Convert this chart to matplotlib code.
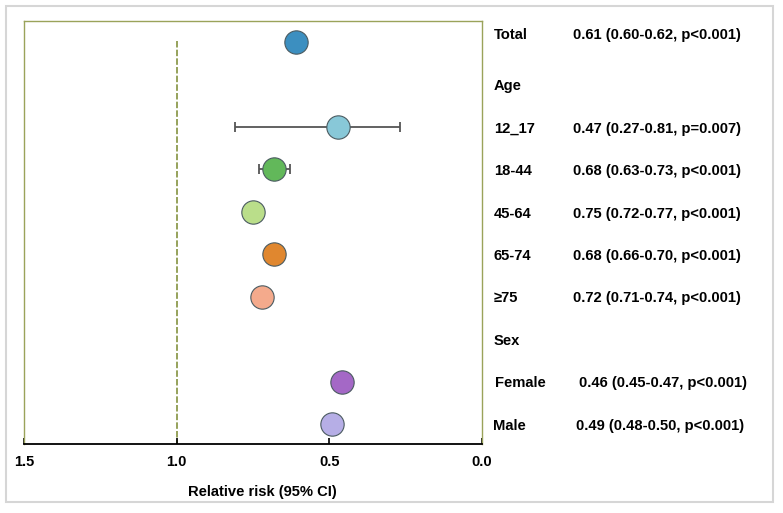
import matplotlib
matplotlib.use("Agg")
import matplotlib.pyplot as plt
import matplotlib.transforms as mtransforms
from matplotlib.patches import Rectangle

plt.rcParams['font.family'] = ['Liberation Sans', 'DejaVu Sans']

rows = ["Total", "Age", "12_17", "18-44", "45-64", "65-74", "≥75", "Sex", "Female", "Male"]
rr = [0.61, None, 0.47, 0.68, 0.75, 0.68, 0.72, None, 0.46, 0.49]
lo = [0.60, None, 0.27, 0.63, 0.72, 0.66, 0.71, None, 0.45, 0.48]
hi = [0.62, None, 0.81, 0.73, 0.77, 0.70, 0.74, None, 0.47, 0.50]
pvals = ["p<0.001", None, "p=0.007", "p<0.001", "p<0.001", "p<0.001", "p<0.001", None, "p<0.001", "p<0.001"]
colors = ["#3C8FC0", None, "#88C8D8", "#62B85A", "#BADE8A", "#E0872F", "#F4AA8C", None, "#A468C6", "#B6AEE6"]
xticks = [1.5, 1.0, 0.5, 0.0]

W, H = 783, 513
fig = plt.figure(figsize=(W / 100, H / 100), dpi=100)
ax = fig.add_axes([24 / W, 1 - 444 / H, (482 - 24) / W, (444 - 21) / H])

fig.patches.append(Rectangle((6 / W, 1 - 502 / H), (773 - 6) / W, (502 - 6) / H,
                             transform=fig.transFigure, fill=False,
                             edgecolor="#D6D6D6", linewidth=1.5))

ax.set_xlim(1.5, 0.0)
ax.set_ylim(9.47, -0.495)

ax.plot([1.0, 1.0], [-0.03, 9.47], color="#8E9B4E", linewidth=1.3,
        dashes=(3.6, 1.2), zorder=1)

for i, r in enumerate(rows):
    if rr[i] is None:
        continue
    ax.errorbar(rr[i], i, xerr=[[rr[i] - lo[i]], [hi[i] - rr[i]]],
                fmt='none', ecolor="#555555", elinewidth=1.3, capsize=3.5,
                capthick=1.3, zorder=2)
    ax.plot(rr[i], i, 'o', markersize=16.8, markerfacecolor=colors[i],
            markeredgecolor="#4A5A60", markeredgewidth=0.8, zorder=3)

trans = mtransforms.blended_transform_factory(fig.transFigure, ax.transData)
val_x = {8: 579, 9: 576}
lab_x = {8: 495, 9: 493}
text_dy = {0: -0.2}
FS = 10.6
for i, r in enumerate(rows):
    y = i + text_dy.get(i, 0.0) + 0.04
    ax.text(lab_x.get(i, 494) / W, y, r, transform=trans, fontsize=FS, fontweight='bold',
            va='center', ha='left', clip_on=False)
    if rr[i] is not None:
        s = f"{rr[i]:.2f} ({lo[i]:.2f}-{hi[i]:.2f}, {pvals[i]})"
        ax.text(val_x.get(i, 573) / W, y, s, transform=trans, fontsize=FS,
                fontweight='bold', va='center', ha='left', clip_on=False)

ax.set_xticks(xticks)
ax.set_xticklabels([f"{t:.1f}" for t in xticks], fontsize=10.5, fontweight='bold')
ax.tick_params(axis='x', direction='in', length=4, width=1.2, pad=8, color='black')
ax.set_yticks([])

for s in ['left', 'right', 'top']:
    ax.spines[s].set_color("#9AA35A")
    ax.spines[s].set_linewidth(1.0)
ax.spines['bottom'].set_color('black')
ax.spines['bottom'].set_linewidth(1.3)

fig.text(262 / W, 1 - 492 / H, "Relative risk (95% CI)", fontsize=10.6,
         fontweight='bold', ha='center', va='center')

fig.savefig("out.png", dpi=100)
